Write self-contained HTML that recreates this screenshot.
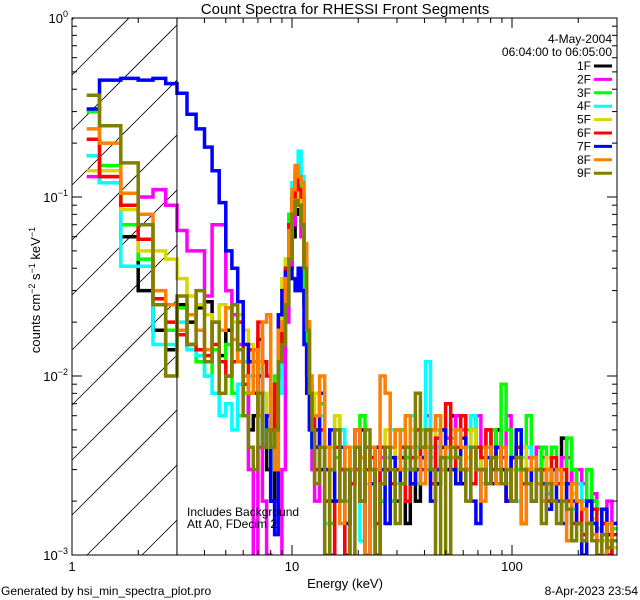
<!DOCTYPE html>
<html><head><meta charset="utf-8"><style>
html,body{margin:0;padding:0;background:#fff;width:640px;height:600px;overflow:hidden}
svg{display:block;font-family:"Liberation Sans",sans-serif}
</style></head><body>
<svg id="chart" width="640" height="600" xmlns="http://www.w3.org/2000/svg">
<rect x="0" y="0" width="640" height="600" fill="#fff"/>
<defs><clipPath id="pc"><rect x="72" y="18" width="545" height="537"/></clipPath></defs>
<text x="345" y="14" font-size="15" text-anchor="middle">Count Spectra for RHESSI Front Segments</text>
<g id="hatch"></g>
<g id="series" clip-path="url(#pc)"></g>
<g id="axes"></g>
<text x="612" y="43" font-size="12" text-anchor="end">4-May-2004</text>
<text x="612" y="56" font-size="12" text-anchor="end">06:04:00 to 06:05:00</text>
<g id="legend"></g>
<text x="187" y="516" font-size="12">Includes Background</text>
<text x="187" y="528" font-size="12">Att A0, FDecim 2</text>
<text x="345" y="588" font-size="13" text-anchor="middle">Energy (keV)</text>
<text transform="translate(40,290) rotate(-90)" font-size="13" text-anchor="middle">counts cm<tspan font-size="9" dy="-5">−2</tspan><tspan dy="5"> s</tspan><tspan font-size="9" dy="-5">−1</tspan><tspan dy="5"> keV</tspan><tspan font-size="9" dy="-5">−1</tspan></text>
<text x="1" y="595" font-size="12">Generated by hsi_min_spectra_plot.pro</text>
<text x="638" y="595" font-size="12" text-anchor="end">8-Apr-2023 23:54</text>
</svg>
<script>
// bin edges (keV): 1/3 keV bins to 12.67 keV, then 60 log bins to 300 keV
const lowEdges = [7/6];
for (let i = 0; i <= 34; i++) lowEdges.push(4/3 + i/3);
const highEdges = [];
for (let i = 1; i <= 60; i++) highEdges.push(lowEdges[lowEdges.length-1] * Math.pow(300/lowEdges[lowEdges.length-1], i/60));
const edges = lowEdges.concat(highEdges);
const seriesNames = ["1F","2F","3F","4F","5F","6F","7F","8F","9F"];
const seriesColors = ["#000000","#ff00ff","#00ff00","#00ffff","#d8d800","#ff0000","#0000ff","#ff8000","#808000"];
// values in units of 1e-3 counts cm^-2 s^-1 keV^-1
const s1F = [170,120,60,30,18,14,25,20,24,26,14,13,18,22,14,8,5,6,16,4,3,2,5,10,14,22,40,60,80,85,60,25,10,6,4,
 5,3,4,2,6,3,1.5,4,3,5,2.5,3.5,1,4,3,2,5,3.5,1.5,3,2,4,5,3,2.5,4,3,6,4,2.5,3,5,4,3,2.5,4,5,3,2,3.5,4,3,2.5,3,4,2,3,2.5,3,4.5,2,3,2.5,2,1.5,2,1.2,1.5,1,1.2];
const s2F = [130,130,90,100,110,90,65,50,50,28,70,70,30,22,15,10,3,0.5,4,2,1,0.5,0.5,0.8,3,20,40,70,90,110,60,25,10,5,3,
 2,5,0.8,1,4,3,0.5,2.5,3,2,4,3,1.5,3.5,4,2,3,5,4,3,2.5,4,6,4,3,5,4.5,3,6,5,3.5,4,6,3,5,4,3,3.5,6,3,4,3,3.5,3,4,3.5,3,2.5,3,3.5,3.5,2.5,3,2.5,2,2.2,1.8,1.5,2,1.5];
const s3F = [300,150,70,45,25,18,24,15,12,10,14,12,15,8,6,8,14,12,6,4,5,3,10,12,25,45,80,120,140,130,80,25,10,6,4,
 4,7,3,1.5,3.5,5,2,3,4,6,2.5,3,4,2,3.5,2,3,5,3.5,4,2.5,5,3,4,6,3,3.5,4.5,4,3,5,6,3,4,3.5,5,4,9,5,3.5,3,4,6,3.5,3,4,3,4,2.5,3,4.5,3,2.5,2,3,2,1.8,1.5,1.2,1.4];
const s4F = [170,120,41,41,15,15,20,14,13,10,8,6,7,5,9,12,10,14,11,8,5,3,6,8,15,30,60,120,140,180,130,50,20,8,4,
 3,6,1.5,4,2,5,3,2.5,4,1.2,3,2.5,4,3,3.5,5,2.5,4,3,6,4,3.5,12,5,4,3,4,5,3.5,3,4,6,3,2.5,3.5,4,3,3,2.5,3,2,3.5,4,3,2.5,3,2.2,3.5,2.5,3,2,1.8,2.5,2,1.5,1.8,1.4,1.2,1.5,1.3];
const s5F = [140,140,85,50,50,45,35,28,25,22,20,25,24,20,22,18,15,10,12,8,6,4,8,18,35,45,60,90,110,100,80,45,20,10,6,
 8,5,3,4,6,2,3,4,5,3,2.5,3.5,4,3,5,4,3.5,3,4,5,3,4,4,3.5,5,3,4,3.5,3,4,3.5,5,4,3,4,3,3.5,3,2.5,3,3.5,4,3,3,2.5,3,3.5,2.5,3,2.5,2,2.2,2,1.8,1.5,1.6,1.4,1.2,1.3,1.1];
const s6F = [210,130,90,58,27,20,17,15,14,13,15,12,10,12,20,9,14,8,20,12,10,5,9,12,20,40,70,100,130,110,100,45,20,9,6,
 3,5,2,0.5,4,3,1,2.5,5,2,3,3.5,1.5,4,3,2.5,3,4,2,3.5,5,3,4,2.5,4.5,5,7,3,4,6,3,2.5,4,3.5,5,3,4,3,2,3.5,4,2.5,3,2,2.5,3,2,3.5,2.5,3,2,1.5,2,1.3,1.5,1.8,1.2,1.5,1,1.3];
const s7F = [310,450,460,450,460,430,380,290,240,190,140,93,50,40,26,15,12,8,10,4,6,2,1.3,22,30,38,40,35,30,40,30,15,8,5,4,
 4,8,3,5,2,4,1.5,3,5,3.5,1,2.5,4,3,1.5,3.5,2,3,4,2.5,3,3.5,4,2,3,5,4,3,2.5,4.5,3,2,1.5,3,3.5,2.5,4,3,2,3.5,5,1.5,3,2,3,2.5,1.8,3,2,1.5,2.5,2,1.5,1,2,1.5,1.2,1.8,1.3,1.5];
const s8F = [240,200,105,80,30,25,18,22,18,14,20,18,24,16,12,10,8,14,6,20,22,4,3,18,20,35,65,110,150,130,120,55,20,10,6,
 6,10,4,3,5,1.5,4,3,5,3.5,1,4,3,10,8,4,5,3,6,4,3.5,2.5,4,5,6,3,4,3.5,5,4,3,4,3,2,4,3.5,2.5,4,3,2,3.5,1.5,3,3.5,2.5,2,3,2.5,3,2,1.2,2.5,2,1.8,1.5,1.3,1.2,1,1.5,1.2];
const s9F = [370,250,155,70,25,10,28,15,30,12,20,8,10,25,14,6,4,3,8,4,5,4,5,12,15,25,45,80,95,90,70,40,18,8,5,
 2.5,4,1,3,5,2,3,0.8,4,2,5,3,1,2.5,4,3,1.5,2.5,4,3,8,4,5,3,0.8,3.5,1,4,3.5,3,2,4,3,3,2.5,3.5,3,2.5,3,2,3.5,3,2.5,2,3,1.5,2.5,2,1.5,2,1.8,1.2,1.5,1.2,1.5,1.2,1.0,1.3,1.1,1.2];
const seriesValues = [s1F,s2F,s3F,s4F,s5F,s6F,s7F,s8F,s9F];
const xTickLabels = ["1","10","100"];
const yTickExps = [0,-1,-2,-3];

const NS="http://www.w3.org/2000/svg";
const X0=72,X1=617,Y0=18,Y1=555;
const XDEC=220, YDEC=179;
function xs(e){return X0+Math.log10(e)*XDEC;}
function ys(v){const y=Y0-Math.log10(v)*YDEC;return Math.min(y,Y1+3);}
function mk(t,a,p){const el=document.createElementNS(NS,t);for(const k in a)el.setAttribute(k,a[k]);(p||document.getElementById('chart')).appendChild(el);return el;}

// hatch (segments computed inside region x 72..177, y 18..555)
const hg=document.getElementById('hatch');
const HX1=xs(3);
for(let c=-200;c<800;c+=55){
  // line: y = c - (x - X0)
  const xa=Math.max(X0, X0+c-Y1), xb=Math.min(HX1, X0+c-Y0);
  if(xb<=xa) continue;
  const ln=mk('line',{x1:xa,y1:c-(xa-X0),x2:xb,y2:c-(xb-X0),stroke:'#000','stroke-width':0.8},hg);
  
  
}
const vl=mk('line',{x1:HX1,y1:Y0,x2:HX1,y2:Y1,stroke:'#000','stroke-width':1});



// series
const sg=document.getElementById('series');
seriesValues.forEach((vals,si)=>{
  let d='';
  const n=Math.min(vals.length,edges.length-1);
  for(let i=0;i<n;i++){
    const v=vals[i]*1e-3;
    const y=ys(v);
    d+=(i===0?'M':'L')+xs(edges[i]).toFixed(1)+','+y.toFixed(1)+'L'+xs(edges[i+1]).toFixed(1)+','+y.toFixed(1);
  }
  const p=mk('path',{d:d,fill:'none',stroke:seriesColors[si],'stroke-width':3.5,'stroke-linejoin':'miter'},sg);
  
  
});

// axes
const ag=document.getElementById('axes');
const frame=mk('rect',{x:X0,y:Y0,width:X1-X0,height:Y1-Y0,fill:'none',stroke:'#000','stroke-width':1},ag);


for(let dec=0;dec<3;dec++){
  for(let m=1;m<10;m++){
    const e=m*Math.pow(10,dec); if(e>300)break;
    const x=xs(e); const L=m===1?10:5;
    mk('line',{x1:x,y1:Y1,x2:x,y2:Y1-L,stroke:'#000'},ag);
    mk('line',{x1:x,y1:Y0,x2:x,y2:Y0+L,stroke:'#000'},ag);
  }
}
xTickLabels.forEach((lab,i)=>{
  const t=mk('text',{x:xs(Math.pow(10,i)),y:Y1+16,'font-size':13,'text-anchor':'middle'},ag);
  t.textContent=lab;
  
  
});
for(let dec=-3;dec<0;dec++){
  for(let m=1;m<10;m++){
    const v=m*Math.pow(10,dec); const y=ys(v); const L=m===1?10:5;
    mk('line',{x1:X0,y1:y,x2:X0+L,y2:y,stroke:'#000'},ag);
    mk('line',{x1:X1,y1:y,x2:X1-L,y2:y,stroke:'#000'},ag);
  }
}
yTickExps.forEach(ex=>{
  const t=mk('text',{x:X0-4,y:ys(Math.pow(10,ex))+5,'font-size':13,'text-anchor':'end'},ag);
  t.innerHTML='10<tspan font-size="9" dy="-6">'+(ex===0?'0':'−'+(-ex))+'</tspan>';
  
  
});

// legend
const lg=document.getElementById('legend');
seriesNames.forEach((nm,i)=>{
  const y=66+i*13.4;
  const t=mk('text',{x:591,y:y+4,'font-size':12,'text-anchor':'end'},lg);
  t.textContent=nm;
  
  
  const l=mk('line',{x1:594,y1:y,x2:612,y2:y,stroke:seriesColors[i],'stroke-width':3},lg);
  
  
});
</script>
</body></html>
